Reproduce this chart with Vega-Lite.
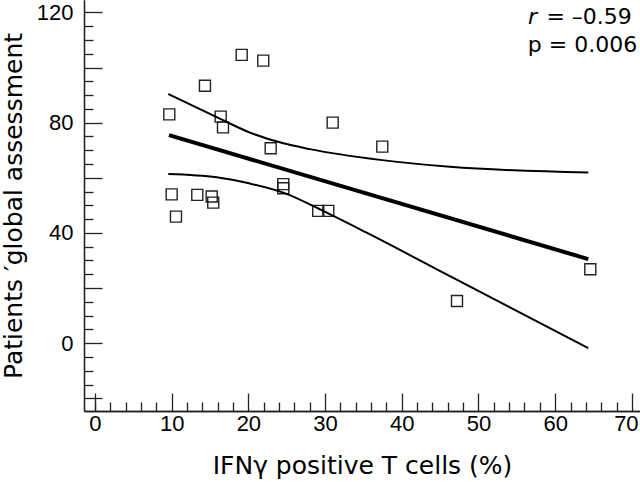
{
  "$schema": "https://vega.github.io/schema/vega-lite/v6.json",
  "width": 556,
  "height": 411,
  "autosize": {"type": "none"},
  "padding": {"left": 84, "top": 0, "right": 0, "bottom": 71},
  "background": "white",
  "config": {
    "view": {"stroke": null},
    "axis": {
      "domainColor": "#222",
      "tickColor": "#222",
      "domainWidth": 1.3,
      "tickWidth": 1.3,
      "labelFont": "Liberation Sans",
      "labelFontSize": 22,
      "labelColor": "black",
      "titleFont": "DejaVu Sans",
      "titleFontSize": 25,
      "titleFontWeight": "normal",
      "titleColor": "black",
      "grid": false
    }
  },
  "datasets": {
    "points": [
      {"ifng": 9.69, "score": 83.0},
      {"ifng": 19.13, "score": 104.6},
      {"ifng": 21.94, "score": 102.5},
      {"ifng": 14.34, "score": 93.4},
      {"ifng": 16.39, "score": 82.2},
      {"ifng": 16.69, "score": 78.3},
      {"ifng": 22.91, "score": 70.7},
      {"ifng": 30.99, "score": 80.0},
      {"ifng": 37.46, "score": 71.3},
      {"ifng": 24.55, "score": 57.7},
      {"ifng": 24.55, "score": 56.2},
      {"ifng": 10.0, "score": 54.0},
      {"ifng": 13.34, "score": 53.8},
      {"ifng": 15.22, "score": 53.2},
      {"ifng": 15.42, "score": 51.0},
      {"ifng": 10.56, "score": 45.9},
      {"ifng": 29.11, "score": 48.0},
      {"ifng": 30.42, "score": 48.0},
      {"ifng": 47.2, "score": 15.3},
      {"ifng": 64.58, "score": 26.8}
    ],
    "fit": [
      {"ifng": 9.65, "score": 75.5},
      {"ifng": 64.32, "score": 30.5}
    ],
    "ci": [
      {"bound": "upper", "ifng": 9.56, "score": 90.4},
      {"bound": "upper", "ifng": 15.87, "score": 82.0},
      {"bound": "upper", "ifng": 20.21, "score": 76.4},
      {"bound": "upper", "ifng": 24.55, "score": 72.5},
      {"bound": "upper", "ifng": 28.03, "score": 70.4},
      {"bound": "upper", "ifng": 37.16, "score": 66.5},
      {"bound": "upper", "ifng": 46.28, "score": 64.0},
      {"bound": "upper", "ifng": 64.32, "score": 61.9},
      {"bound": "lower", "ifng": 9.56, "score": 61.4},
      {"bound": "lower", "ifng": 15.87, "score": 60.2},
      {"bound": "lower", "ifng": 20.21, "score": 57.9},
      {"bound": "lower", "ifng": 24.55, "score": 54.6},
      {"bound": "lower", "ifng": 29.73, "score": 48.0},
      {"bound": "lower", "ifng": 35.42, "score": 40.1},
      {"bound": "lower", "ifng": 46.28, "score": 24.3},
      {"bound": "lower", "ifng": 64.32, "score": -1.8}
    ],
    "notes": [
      {"ifng": 70.0, "score": 118.3, "label": "= –0.59"},
      {"ifng": 70.7, "score": 108.2, "label": "p = 0.006"}
    ],
    "rnote": [
      {"ifng": 56.45, "score": 118.3, "label": "r"}
    ]
  },
  "layer": [
    {
      "data": {"name": "points"},
      "mark": {"type": "point", "shape": "square", "size": 121, "filled": false, "stroke": "#222", "strokeWidth": 1.4, "opacity": 1},
      "encoding": {
        "x": {
          "field": "ifng", "type": "quantitative",
          "scale": {"domain": [-1.43, 71.06], "nice": false, "zero": false},
          "axis": {
            "orient": "bottom",
            "values": [0, 10, 20, 30, 40, 50, 60, 70],
            "tickSize": -18,
            "labelPadding": 20,
            "labelOffset": {"condition": {"test": "datum.value === 70", "value": -6}, "value": 0},
            "title": "IFNγ positive T cells (%)",
            "titlePadding": 19
          }
        },
        "y": {
          "field": "score", "type": "quantitative",
          "scale": {"domain": [-24.6, 124.5], "nice": false, "zero": false},
          "axis": {
            "orient": "left",
            "values": [-20, 0, 20, 40, 60, 80, 100, 120],
            "labelExpr": "datum.value % 40 === 0 ? datum.label : ''",
            "tickSize": -18,
            "labelPadding": 29,
            "title": "Patients ′global assessment",
            "titlePadding": 10
          }
        }
      }
    },
    {
      "data": {"name": "fit"},
      "mark": {"type": "line", "color": "black", "strokeWidth": 4},
      "encoding": {
        "x": {
          "field": "ifng", "type": "quantitative",
          "scale": {"domain": [-1.43, 71.06], "nice": false, "zero": false},
          "axis": {
            "orient": "bottom",
            "values": [0, 2, 4, 6, 8, 12, 14, 16, 18, 22, 24, 26, 28, 32, 34, 36, 38, 42, 44, 46, 48, 52, 54, 56, 58, 62, 64, 66, 68],
            "tickSize": -9,
            "labels": false,
            "title": null
          }
        },
        "y": {
          "field": "score", "type": "quantitative",
          "scale": {"domain": [-24.6, 124.5], "nice": false, "zero": false},
          "axis": {
            "orient": "left",
            "values": [-15, -10, -5, 5, 10, 15, 25, 30, 35, 45, 50, 55, 65, 70, 75, 85, 90, 95, 105, 110, 115],
            "tickSize": -9,
            "labels": false,
            "title": null
          }
        }
      }
    },
    {
      "data": {"name": "ci"},
      "mark": {"type": "line", "color": "black", "strokeWidth": 2, "interpolate": "monotone"},
      "encoding": {
        "x": {"field": "ifng", "type": "quantitative", "scale": {"domain": [-1.43, 71.06], "nice": false, "zero": false}, "axis": null},
        "y": {"field": "score", "type": "quantitative", "scale": {"domain": [-24.6, 124.5], "nice": false, "zero": false}, "axis": null},
        "detail": {"field": "bound"}
      }
    },
    {
      "data": {"name": "notes"},
      "mark": {"type": "text", "align": "right", "baseline": "middle", "font": "DejaVu Sans", "fontSize": 22, "color": "black"},
      "encoding": {
        "x": {"field": "ifng", "type": "quantitative", "scale": {"domain": [-1.43, 71.06], "nice": false, "zero": false}, "axis": null},
        "y": {"field": "score", "type": "quantitative", "scale": {"domain": [-24.6, 124.5], "nice": false, "zero": false}, "axis": null},
        "text": {"field": "label"}
      }
    },
    {
      "data": {"name": "rnote"},
      "mark": {"type": "text", "align": "left", "baseline": "middle", "font": "DejaVu Sans", "fontStyle": "italic", "fontSize": 22, "color": "black"},
      "encoding": {
        "x": {"field": "ifng", "type": "quantitative", "scale": {"domain": [-1.43, 71.06], "nice": false, "zero": false}, "axis": null},
        "y": {"field": "score", "type": "quantitative", "scale": {"domain": [-24.6, 124.5], "nice": false, "zero": false}, "axis": null},
        "text": {"field": "label"}
      }
    }
  ],
  "resolve": {"axis": {"x": "independent", "y": "independent"}}
}
